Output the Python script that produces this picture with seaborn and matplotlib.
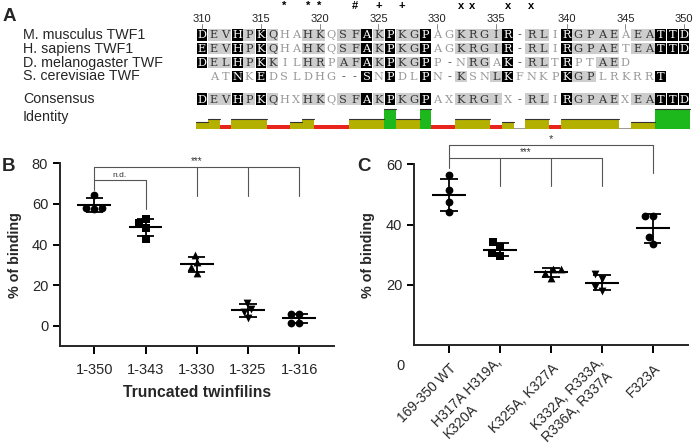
import numpy as np
import pandas as pd
import matplotlib
matplotlib.use("Agg")
import matplotlib.pyplot as plt
import matplotlib.transforms as mtransforms
import seaborn as sns
from matplotlib.patches import Rectangle

# ------------------------------------------------------------------ data
species = ["M. musculus TWF1", "H. sapiens TWF1", "D. melanogaster TWF", "S. cerevisiae TWF"]
seq_mouse = "DEVHPKQHAHKQSFAKPKGPAGKRGIR-RLIRGPAEAEATTD"
seq_human = "EEVHPKQHAHKQSFAKPKGPAGKRGIR-RLIRGPAETEATTD"
seq_dmel = "DELHPKKILHRPAFAKPKGPP-NRGAK-RLTRPTAED     "
seq_scer = " ATNKEDSLDHG--SNPDLPN-KSNLKFNKPKGPLRKRRT  "
consensus = "DEVHPKQHXHKQSFAKPKGPAXKRGIX-RLIRGPAEXEATTD"
first_residue = 310
ruler_ticks = [310, 315, 320, 325, 330, 335, 340, 345, 350]
mut_positions = [317, 319, 320, 323, 325, 327, 332, 333, 336, 337]
mut_symbols = ["*", "*", "*", "#", "+", "+", "x", "x", "x", "x"]
similar_pairs = ["AS", "RK", "RQ", "ND", "NH", "NS", "DE", "QE", "QK", "EK", "HY",
                 "IL", "IV", "IM", "LV", "LM", "MV", "FY", "FW", "ST", "WY"]

b_labels = ["1-350", "1-343", "1-330", "1-325", "1-316"]
b_1_350 = [64.4, 58.0, 57.6, 57.8]
b_1_343 = [52.4, 50.4, 48.2, 42.6]
b_1_330 = [34.8, 31.2, 28.8, 26.1]
b_1_325 = [11.3, 8.2, 6.9, 3.6]
b_1_316 = [5.6, 5.6, 1.5, 1.5]
b_markers = ["o", "s", "^", "v", "o"]

c_labels = ["169-350 WT", "H317A H319A,\nK320A", "K325A, K327A",
            "K332A, R333A,\nR336A, R337A", "F323A"]
c_wt = [56.3, 51.5, 47.6, 44.1]
c_h317 = [34.2, 32.7, 29.6, 30.5]
c_k325 = [25.2, 25.2, 24.1, 22.2]
c_k332 = [23.5, 22.0, 19.4, 18.1]
c_f323 = [42.9, 42.9, 35.8, 33.6]
c_markers = ["o", "s", "^", "v", "o"]

# ------------------------------------------------------------------ style
sns.set_style("ticks")
plt.rcParams["font.family"] = ["Liberation Sans", "DejaVu Sans"]

FW, FH = 699, 446
fig = plt.figure(figsize=(FW / 100, FH / 100), dpi=100)

# ------------------------------------------------------------------ panel A
X0, WCOL, Y0, PITCH = 202.0, 11.76, 34.7, 13.9
def cx(px):
    return (px - X0) / WCOL
def ry(py):
    return (py - Y0) / PITCH

ax_a = fig.add_axes([0, 1 - 140 / FH, 1, 140 / FH])
ax_a.set_xlim(cx(0), cx(FW))
ax_a.set_ylim(ry(140), ry(0))
ax_a.axis("off")

sims = set()
for p in similar_pairs:
    sims.add(p)
    sims.add(p[::-1])
def similar(a, b):
    return a != "-" and b != "-" and (a == b or (a + b) in sims)

seqs = [seq_mouse, seq_human, seq_dmel, seq_scer]
ncol = len(seq_mouse)
BOXH = 0.84
col_black = []
col_gray_chars = []
for c in range(ncol):
    chars = [s[c] for s in seqs]
    present = [ch for ch in chars if ch != " "]
    letters = [ch for ch in present if ch != "-"]
    black = (len(letters) == len(present) and len(present) >= 2 and
             all(similar(a, b) for a in letters for b in letters))
    col_black.append(black)
    grays = set()
    for ch in letters:
        cnt = sum(similar(ch, o) for o in present)
        if cnt / len(present) >= 0.6:
            grays.add(ch)
    col_gray_chars.append(grays)

def draw_res(c, r, ch, mode):
    if ch == " ":
        return
    if mode == "black":
        ax_a.add_patch(Rectangle((c - 0.45, r - BOXH / 2), 0.9, BOXH, color="black", lw=0))
        color = "white"
    elif mode == "gray":
        ax_a.add_patch(Rectangle((c - 0.5, r - BOXH / 2), 1.0, BOXH, color="#cdcdcd", lw=0))
        color = "#333333"
    else:
        color = "#555555" if ch == "-" else "#999999"
    ax_a.text(c, r + 0.04, ch, ha="center", va="center", fontsize=8.2,
              family="DejaVu Serif", color=color)

for r, s in enumerate(seqs):
    for c, ch in enumerate(s):
        if ch in (" ", "-"):
            mode = "plain"
        elif col_black[c]:
            mode = "black"
        elif ch in col_gray_chars[c]:
            mode = "gray"
        else:
            mode = "plain"
        draw_res(c, r, ch, mode)

r_cons = ry(99.2)
for c, ch in enumerate(consensus):
    if ch in ("X", "-"):
        mode = "plain"
    elif col_black[c]:
        mode = "black"
    elif ch in col_gray_chars[c]:
        mode = "gray"
    else:
        mode = "plain"
    draw_res(c, r_cons, ch, mode)

for r, name in enumerate(species):
    ax_a.text(cx(23), r, name, ha="left", va="center", fontsize=10.3)
ax_a.text(cx(23), r_cons, "Consensus", ha="left", va="center", fontsize=10.3)
ax_a.text(cx(23), ry(117), "Identity", ha="left", va="center", fontsize=10.3)

# residue numbering -> column
pos2col = {}
pos = first_residue
for c, ch in enumerate(seq_mouse):
    if ch != "-":
        pos2col[pos] = c
        pos += 1
for t in ruler_ticks:
    c = pos2col[t]
    ax_a.text(c, ry(18.8), str(t), ha="center", va="center", fontsize=8, color="#222222")
    ax_a.plot([c, c], [ry(24), ry(29)], color="#888888", lw=0.7)
for p, sym in zip(mut_positions, mut_symbols):
    ax_a.text(pos2col[p], ry(6.3), sym, ha="center", va="center", fontsize=8,
              weight="bold", color="black")

# identity graph
ident = []
for c in range(ncol):
    present = [s[c] for s in seqs if s[c] != " "]
    n = len(present)
    pairs = n * (n - 1) / 2
    same = sum(1 for i in range(n) for j in range(i + 1, n)
               if present[i] == present[j] and present[i] != "-")
    ident.append(same / pairs if pairs else 0)
ident = np.array(ident)
base = ry(128.5)
full = 19.5 / PITCH
colors = ["#1cb81c" if v >= 0.999 else ("#b4b000" if v >= 0.3 else ("#e8251c" if v > 0 else "#9a9a9a"))
          for v in ident]
heights = np.where(ident > 0, ident * full, 0.07)
ax_a.bar(np.arange(ncol), -heights, bottom=base, width=1.0, color=colors, lw=0)
for c in range(ncol):
    if ident[c] >= 0.3:
        ax_a.plot([c - 0.5, c + 0.5], [base - heights[c]] * 2, color="#333333", lw=0.8)

# ------------------------------------------------------------------ helpers
def scatter_panel(ax, labels, groups, markers):
    df = pd.DataFrame({"grp": np.repeat(labels, [len(g) for g in groups]),
                       "val": np.concatenate(groups)})
    for lab, mk in zip(labels, markers):
        sns.swarmplot(data=df[df["grp"] == lab], x="grp", y="val", order=labels,
                      marker=mk, color="black", size=5.6, ax=ax, zorder=3)
    stats = df.groupby("grp", sort=False)["val"].agg(["mean", "std"])
    for i, lab in enumerate(labels):
        m, sd = stats.loc[lab, "mean"], stats.loc[lab, "std"]
        ax.hlines(m, i - 0.33, i + 0.33, color="black", lw=1.5, zorder=4)
        ax.vlines(i, m - sd, m + sd, color="black", lw=1.3, zorder=4)
        ax.hlines([m - sd, m + sd], i - 0.17, i + 0.17, color="black", lw=1.3, zorder=4)
    sns.despine(ax=ax)
    for sp in ("left", "bottom"):
        ax.spines[sp].set_linewidth(1.4)
    ax.tick_params(width=1.4, length=5, labelsize=10.5, color="black")
    ax.tick_params(axis="x", length=6)

def bracket(ax, x0, x1, y, drops, drop_to, left_to=None):
    st = dict(color="#555555", lw=0.8, clip_on=False)
    ax.plot([x0, x1], [y, y], **st)
    for d in drops:
        ax.plot([d, d], [y, drop_to], **st)
    if left_to is not None:
        ax.plot([x0, x0], [y, left_to], **st)

# ------------------------------------------------------------------ panel B
ax_b = fig.add_axes([60 / FW, 1 - 346 / FH, (334 - 60) / FW, (346 - 163.3) / FH])
scatter_panel(ax_b, b_labels, [b_1_350, b_1_343, b_1_330, b_1_325, b_1_316], b_markers)
ax_b.set_xlim(-0.67, 4.68)
ax_b.set_ylim(-10, 80)
ax_b.set_yticks([0, 20, 40, 60, 80])
ax_b.set_xlabel("Truncated twinfilins", fontsize=11.3, weight="bold", labelpad=6)
ax_b.set_ylabel("% of binding", fontsize=10.3, weight="bold", labelpad=7)
ax_b.tick_params(axis="x", pad=6)
bracket(ax_b, 0, 4, 78, [2, 3, 4], 63.9, left_to=66.8)
bracket(ax_b, 0, 1, 71.8, [1], 57.5)
ax_b.text(2, 78.4, "***", ha="center", va="bottom", fontsize=7, color="#333333")
ax_b.text(0.5, 72.3, "n.d.", ha="center", va="bottom", fontsize=6, color="#333333")

# ------------------------------------------------------------------ panel C
ax_c = fig.add_axes([414.3 / FW, 1 - 345.3 / FH, (688 - 414.3) / FW, (345.3 - 164.3) / FH])
scatter_panel(ax_c, c_labels, [c_wt, c_h317, c_k325, c_k332, c_f323], c_markers)
ax_c.set_xlim(-0.68, 4.69)
ax_c.set_ylim(0, 60)
ax_c.set_yticks([20, 40, 60])
ax_c.set_xlabel("")
ax_c.set_ylabel("% of binding", fontsize=10.3, weight="bold", labelpad=8)
ax_c.tick_params(axis="x", pad=6)
shift = mtransforms.ScaledTranslation(0.05, -0.04, fig.dpi_scale_trans)
for t in ax_c.get_xticklabels():
    t.set_rotation(45)
    t.set_rotation_mode("anchor")
    t.set_ha("right")
    t.set_va("center")
    t.set_multialignment("left")
    t.set_fontsize(10)
    t.set_transform(t.get_transform() + shift)
ax_c.text(-0.96, -6.8, "0", ha="center", va="center", fontsize=10.5, clip_on=False)
bracket(ax_c, 0, 4, 66.5, [4], 57.0, left_to=58.7)
bracket(ax_c, 0, 3, 62.2, [1, 2, 3], 52.8)
ax_c.text(2, 66.8, "*", ha="center", va="bottom", fontsize=8, color="#333333")
ax_c.text(1.5, 62.5, "***", ha="center", va="bottom", fontsize=7, color="#333333")

# ------------------------------------------------------------------ panel letters
fig.text(3 / FW, 1 - 21 / FH, "A", fontsize=13.5, weight="bold", va="baseline")
fig.text(2 / FW, 1 - 171 / FH, "B", fontsize=13.5, weight="bold", va="baseline")
fig.text(357 / FW, 1 - 171 / FH, "C", fontsize=13.5, weight="bold", va="baseline")

fig.savefig("out.png", dpi=100)
